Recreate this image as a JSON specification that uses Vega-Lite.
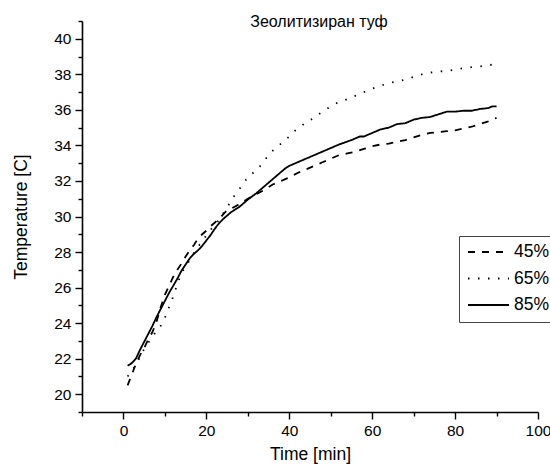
{
  "$schema": "https://vega.github.io/schema/vega-lite/v6.json",
  "autosize": {"type": "none"},
  "padding": {"left": 82, "top": 21, "right": 12, "bottom": 58},
  "width": 456,
  "height": 391,
  "background": "white",
  "config": {
    "view": {"stroke": null},
    "font": "Liberation Sans",
    "axis": {"grid": false, "domainColor": "black", "domainWidth": 1.6, "tickColor": "black", "tickWidth": 1.4, "labelColor": "black", "labelFont": "Liberation Sans", "labelFontSize": 15.5, "titleFont": "Liberation Sans", "titleFontSize": 17.5, "titleFontWeight": "normal", "titleColor": "black"}
  },
  "title": {"text": "Зеолитизиран туф", "font": "Liberation Sans", "fontSize": 16, "fontWeight": "normal", "color": "black", "anchor": "middle", "dx": 9, "dy": 14},
  "data": {"values": [
    {"s":"85%","t":1,"T":21.6},{"s":"85%","t":2,"T":21.75},{"s":"85%","t":3,"T":22.0},{"s":"85%","t":4,"T":22.5},{"s":"85%","t":5,"T":22.95},{"s":"85%","t":6,"T":23.4},{"s":"85%","t":7,"T":23.85},{"s":"85%","t":8,"T":24.35},{"s":"85%","t":9,"T":24.8},{"s":"85%","t":10,"T":25.25},{"s":"85%","t":11,"T":25.7},{"s":"85%","t":12,"T":26.1},{"s":"85%","t":13,"T":26.5},{"s":"85%","t":14,"T":26.95},{"s":"85%","t":15,"T":27.3},{"s":"85%","t":16,"T":27.65},{"s":"85%","t":17,"T":27.9},{"s":"85%","t":18,"T":28.1},{"s":"85%","t":19,"T":28.35},{"s":"85%","t":20,"T":28.65},{"s":"85%","t":21,"T":28.95},{"s":"85%","t":22,"T":29.3},{"s":"85%","t":23,"T":29.6},{"s":"85%","t":24,"T":29.85},{"s":"85%","t":25,"T":30.05},{"s":"85%","t":26,"T":30.25},{"s":"85%","t":28,"T":30.55},{"s":"85%","t":30,"T":30.95},{"s":"85%","t":32,"T":31.3},{"s":"85%","t":34,"T":31.7},{"s":"85%","t":36,"T":32.1},{"s":"85%","t":38,"T":32.5},{"s":"85%","t":39,"T":32.7},{"s":"85%","t":40,"T":32.85},{"s":"85%","t":42,"T":33.05},{"s":"85%","t":45,"T":33.35},{"s":"85%","t":48,"T":33.65},{"s":"85%","t":50,"T":33.85},{"s":"85%","t":52,"T":34.05},{"s":"85%","t":55,"T":34.3},{"s":"85%","t":57,"T":34.5},{"s":"85%","t":58,"T":34.5},{"s":"85%","t":60,"T":34.7},{"s":"85%","t":62,"T":34.9},{"s":"85%","t":64,"T":35.0},{"s":"85%","t":66,"T":35.2},{"s":"85%","t":68,"T":35.25},{"s":"85%","t":70,"T":35.45},{"s":"85%","t":72,"T":35.55},{"s":"85%","t":74,"T":35.6},{"s":"85%","t":76,"T":35.75},{"s":"85%","t":78,"T":35.9},{"s":"85%","t":80,"T":35.9},{"s":"85%","t":82,"T":35.95},{"s":"85%","t":84,"T":35.95},{"s":"85%","t":86,"T":36.05},{"s":"85%","t":88,"T":36.1},{"s":"85%","t":89,"T":36.2},{"s":"85%","t":90,"T":36.2},
    {"s":"45%","t":1,"T":20.5},{"s":"45%","t":2,"T":21.1},{"s":"45%","t":3,"T":21.7},{"s":"45%","t":4,"T":22.2},{"s":"45%","t":5,"T":22.6},{"s":"45%","t":6,"T":23.1},{"s":"45%","t":7,"T":23.5},{"s":"45%","t":8,"T":24.1},{"s":"45%","t":9,"T":24.9},{"s":"45%","t":10,"T":25.6},{"s":"45%","t":11,"T":26.1},{"s":"45%","t":12,"T":26.6},{"s":"45%","t":13,"T":27.0},{"s":"45%","t":14,"T":27.35},{"s":"45%","t":15,"T":27.75},{"s":"45%","t":16,"T":28.1},{"s":"45%","t":17,"T":28.4},{"s":"45%","t":18,"T":28.75},{"s":"45%","t":19,"T":29.0},{"s":"45%","t":20,"T":29.2},{"s":"45%","t":21,"T":29.45},{"s":"45%","t":22,"T":29.65},{"s":"45%","t":23,"T":29.85},{"s":"45%","t":24,"T":30.1},{"s":"45%","t":25,"T":30.35},{"s":"45%","t":26,"T":30.45},{"s":"45%","t":28,"T":30.7},{"s":"45%","t":30,"T":31.0},{"s":"45%","t":32,"T":31.25},{"s":"45%","t":34,"T":31.5},{"s":"45%","t":36,"T":31.8},{"s":"45%","t":38,"T":32.0},{"s":"45%","t":40,"T":32.2},{"s":"45%","t":42,"T":32.45},{"s":"45%","t":44,"T":32.65},{"s":"45%","t":46,"T":32.85},{"s":"45%","t":48,"T":33.05},{"s":"45%","t":50,"T":33.25},{"s":"45%","t":52,"T":33.45},{"s":"45%","t":54,"T":33.55},{"s":"45%","t":56,"T":33.65},{"s":"45%","t":58,"T":33.8},{"s":"45%","t":60,"T":33.95},{"s":"45%","t":62,"T":34.05},{"s":"45%","t":64,"T":34.1},{"s":"45%","t":66,"T":34.2},{"s":"45%","t":68,"T":34.3},{"s":"45%","t":70,"T":34.45},{"s":"45%","t":72,"T":34.6},{"s":"45%","t":74,"T":34.7},{"s":"45%","t":76,"T":34.75},{"s":"45%","t":78,"T":34.8},{"s":"45%","t":80,"T":34.85},{"s":"45%","t":82,"T":34.95},{"s":"45%","t":84,"T":35.05},{"s":"45%","t":86,"T":35.2},{"s":"45%","t":88,"T":35.35},{"s":"45%","t":90,"T":35.55},
    {"s":"65%","t":1,"T":21.0},{"s":"65%","t":2,"T":21.3},{"s":"65%","t":3,"T":21.65},{"s":"65%","t":4,"T":22.1},{"s":"65%","t":5,"T":22.55},{"s":"65%","t":6,"T":22.9},{"s":"65%","t":7,"T":23.25},{"s":"65%","t":8,"T":23.55},{"s":"65%","t":9,"T":23.85},{"s":"65%","t":10,"T":24.3},{"s":"65%","t":11,"T":24.9},{"s":"65%","t":12,"T":25.5},{"s":"65%","t":13,"T":26.2},{"s":"65%","t":14,"T":26.8},{"s":"65%","t":15,"T":27.2},{"s":"65%","t":16,"T":27.55},{"s":"65%","t":17,"T":27.95},{"s":"65%","t":18,"T":28.3},{"s":"65%","t":19,"T":28.6},{"s":"65%","t":20,"T":28.95},{"s":"65%","t":21,"T":29.25},{"s":"65%","t":22,"T":29.5},{"s":"65%","t":23,"T":29.8},{"s":"65%","t":24,"T":30.15},{"s":"65%","t":25,"T":30.5},{"s":"65%","t":26,"T":30.9},{"s":"65%","t":27,"T":31.25},{"s":"65%","t":28,"T":31.55},{"s":"65%","t":29,"T":31.9},{"s":"65%","t":30,"T":32.2},{"s":"65%","t":31,"T":32.4},{"s":"65%","t":32,"T":32.6},{"s":"65%","t":33,"T":32.85},{"s":"65%","t":34,"T":33.15},{"s":"65%","t":35,"T":33.45},{"s":"65%","t":36,"T":33.7},{"s":"65%","t":37,"T":33.9},{"s":"65%","t":38,"T":34.1},{"s":"65%","t":39,"T":34.3},{"s":"65%","t":40,"T":34.5},{"s":"65%","t":41,"T":34.75},{"s":"65%","t":42,"T":34.95},{"s":"65%","t":43,"T":35.1},{"s":"65%","t":44,"T":35.3},{"s":"65%","t":46,"T":35.55},{"s":"65%","t":48,"T":35.9},{"s":"65%","t":50,"T":36.2},{"s":"65%","t":52,"T":36.45},{"s":"65%","t":54,"T":36.6},{"s":"65%","t":56,"T":36.8},{"s":"65%","t":58,"T":37.0},{"s":"65%","t":60,"T":37.2},{"s":"65%","t":62,"T":37.35},{"s":"65%","t":64,"T":37.5},{"s":"65%","t":66,"T":37.6},{"s":"65%","t":68,"T":37.7},{"s":"65%","t":70,"T":37.85},{"s":"65%","t":72,"T":38.0},{"s":"65%","t":74,"T":38.1},{"s":"65%","t":76,"T":38.15},{"s":"65%","t":78,"T":38.2},{"s":"65%","t":80,"T":38.25},{"s":"65%","t":82,"T":38.35},{"s":"65%","t":84,"T":38.4},{"s":"65%","t":86,"T":38.45},{"s":"65%","t":88,"T":38.5},{"s":"65%","t":90,"T":38.6}
  ]},
  "layer": [
    {
      "mark": {"type": "line", "color": "black", "strokeWidth": 1.8},
      "encoding": {
        "x": {"field": "t", "type": "quantitative", "scale": {"domain": [-10, 100], "nice": false, "zero": false},
              "axis": {"orient": "bottom", "title": "Time [min]", "values": [0, 20, 40, 60, 80, 100], "tickSize": 7, "labelPadding": 4, "titlePadding": 7, "labelFlush": false}},
        "y": {"field": "T", "type": "quantitative", "scale": {"domain": [19, 41], "nice": false, "zero": false},
              "axis": {"orient": "left", "title": "Temperature [C]", "values": [20, 22, 24, 26, 28, 30, 32, 34, 36, 38, 40], "tickSize": 7, "labelPadding": 4, "titlePadding": 23, "labelFlush": false}},
        "strokeDash": {"field": "s", "type": "nominal",
          "scale": {"domain": ["45%", "65%", "85%"], "range": [[7, 7], [1.5, 8.5], [1, 0]]},
          "legend": {"title": null, "orient": "none", "legendX": 377, "legendY": 215, "padding": 8, "strokeColor": "#444", "fillColor": "white", "symbolType": "stroke", "symbolSize": 1681, "symbolStrokeWidth": 1.8, "symbolStrokeColor": "black", "labelFontSize": 17.5, "labelFont": "Liberation Sans", "labelColor": "black", "labelOffset": 4, "clipHeight": 16, "rowPadding": 8.5}},
        "order": {"field": "t", "type": "quantitative"}
      }
    },
    {
      "mark": {"type": "line", "opacity": 0},
      "encoding": {
        "x": {"field": "t", "type": "quantitative",
              "axis": {"orient": "bottom", "title": null, "values": [-10, 10, 30, 50, 70, 90], "tickSize": 4, "labels": false, "domain": false}},
        "y": {"field": "T", "type": "quantitative",
              "axis": {"orient": "left", "title": null, "values": [19, 21, 23, 25, 27, 29, 31, 33, 35, 37, 39, 41], "tickSize": 4, "labels": false, "domain": false}},
        "detail": {"field": "s"}
      }
    }
  ],
  "resolve": {"axis": {"x": "independent", "y": "independent"}}
}
